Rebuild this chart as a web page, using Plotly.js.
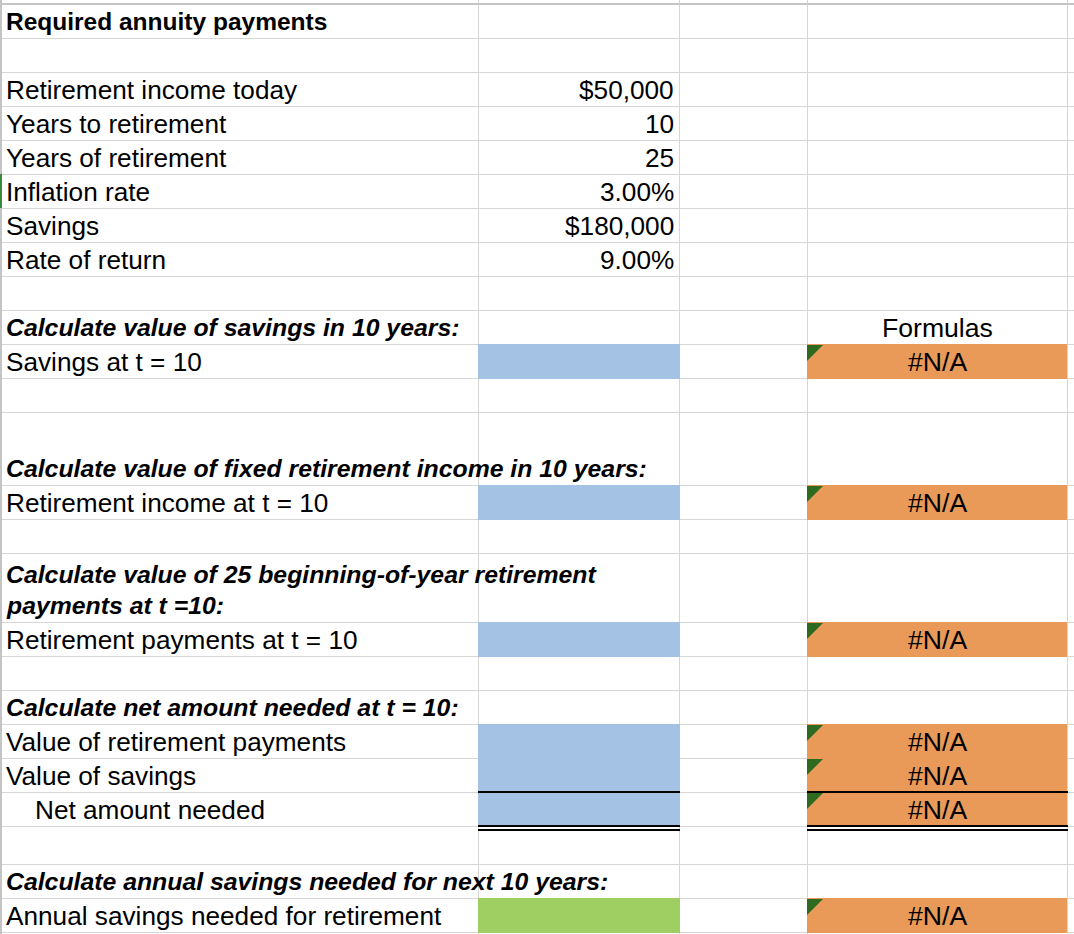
<!DOCTYPE html>
<html><head><meta charset="utf-8">
<script src="https://cdn.plot.ly/plotly-3.0.1.min.js"></script>
<style>html,body{margin:0;padding:0;background:#fff;overflow:hidden;} #chart{width:1074px;height:934px;}</style>
</head><body><div id="chart"></div>
<script>
// ---------------- DATA ----------------
const sheetLabels = [
  "Required annuity payments", "",
  "Retirement income today", "Years to retirement", "Years of retirement",
  "Inflation rate", "Savings", "Rate of return", "",
  "Calculate value of savings in 10 years:", "Savings at t = 10", "",
  "Calculate value of fixed retirement income in 10 years:", "Retirement income at t = 10", "",
  "Calculate value of 25 beginning-of-year retirement<br>payments at t =10:", "Retirement payments at t = 10", "",
  "Calculate net amount needed at t = 10:", "Value of retirement payments", "Value of savings", "Net amount needed", "",
  "Calculate annual savings needed for next 10 years:", "Annual savings needed for retirement"
];
const labelKinds = [
  "title", "",
  "text", "text", "text", "text", "text", "text", "",
  "heading", "text", "",
  "heading", "text", "",
  "heading", "text", "",
  "heading", "text", "text", "subtotal", "",
  "heading", "text"
];
const inputValues = [null, null, 50000, 10, 25, 0.03, 180000, 0.09, null,
  null, null, null, null, null, null, null, null, null, null, null, null, null, null, null, null];
const inputFormats = ["", "", "dollar", "number", "number", "percent", "dollar", "percent", "",
  "", "", "", "", "", "", "", "", "", "", "", "", "", "", "", ""];
const formulaColumn = ["", "", "", "", "", "", "", "", "",
  "Formulas", "#N/A", "",
  "", "#N/A", "",
  "", "#N/A", "",
  "", "#N/A", "#N/A", "#N/A", "",
  "", "#N/A"];
const answerCells = ["", "", "", "", "", "", "", "", "",
  "", "answer", "",
  "", "answer", "",
  "", "answer", "",
  "", "answer", "answer", "answer", "",
  "", "final"];
const totalRowIndex = 21;

// ---------------- LAYOUT ----------------
const W = 1074, H = 934;
const colEdges = [0, 478, 679, 807, 1067];
const rowEdges = [4, 38, 72, 106, 140, 174, 208, 242, 276, 310, 344, 378, 412, 485, 519,
  553, 622, 656, 690, 724, 758, 792, 826, 864, 898, 932];
const FONT = "'Liberation Sans', Arial, Helvetica, sans-serif";
const GRID = "#d6d6d6";
const fillColors = {answer: "#a4c2e4", final: "#9fce62", formula: "#e99a59"};
const markerColor = "#2e6b20";

function fmt(v, f) {
  if (v === null || v === undefined) return "";
  if (f === "dollar") return "$" + v.toLocaleString("en-US");
  if (f === "percent") return (v * 100).toFixed(2) + "%";
  return String(v);
}

const shapes = [];
const annotations = [];

// gridlines
colEdges.forEach(x => shapes.push({type: "line", xref: "x", yref: "y", x0: x + 0.5, x1: x + 0.5, y0: 0, y1: H,
  line: {color: GRID, width: 1}, layer: "below"}));
rowEdges.slice(1).forEach(y => shapes.push({type: "line", xref: "x", yref: "y", x0: 0, x1: W, y0: y + 0.5, y1: y + 0.5,
  line: {color: GRID, width: 1}, layer: "below"}));
// frozen-header line and left edge
shapes.push({type: "line", xref: "x", yref: "y", x0: 0, x1: W, y0: rowEdges[0], y1: rowEdges[0], line: {color: "#c4c4c4", width: 2}});
shapes.push({type: "line", xref: "x", yref: "y", x0: 1, x1: 1, y0: 0, y1: H, line: {color: "#c4c4c4", width: 2}});
shapes.push({type: "line", xref: "x", yref: "y", x0: 1, x1: 1, y0: rowEdges[5], y1: rowEdges[6], line: {color: "#3a8a3a", width: 2}});

sheetLabels.forEach((lab, i) => {
  const top = rowEdges[i], bot = rowEdges[i + 1];
  // fills
  if (answerCells[i]) {
    shapes.push({type: "rect", xref: "x", yref: "y", x0: colEdges[1], x1: colEdges[2] + 1, y0: top, y1: bot + 1,
      fillcolor: fillColors[answerCells[i]], line: {width: 0}});
  }
  if (formulaColumn[i] === "#N/A") {
    shapes.push({type: "rect", xref: "x", yref: "y", x0: colEdges[3], x1: colEdges[4], y0: top, y1: bot + 1,
      fillcolor: fillColors.formula, line: {width: 0}});
    shapes.push({type: "path", xref: "x", yref: "y",
      path: `M${colEdges[3]},${top + 1} L${colEdges[3] + 16},${top + 1} L${colEdges[3]},${top + 17} Z`,
      fillcolor: markerColor, line: {width: 0}});
  }
  // labels
  if (lab) {
    const kind = labelKinds[i];
    const lines = lab.split("<br>");
    lines.forEach((ln, k) => {
      let t = ln;
      const f = {family: FONT, color: "#000", size: 26.2};
      if (kind === "title") { t = "<b>" + ln + "</b>"; f.size = 24.5; }
      if (kind === "heading") { t = "<b><i>" + ln + "</i></b>"; f.size = 24.8; }
      annotations.push({xref: "x", yref: "y", x: colEdges[0] + (kind === "subtotal" ? 33 : 4),
        y: bot - 16.5 - (lines.length - 1 - k) * 31, text: t, showarrow: false,
        xanchor: "left", yanchor: "middle", font: f});
    });
  }
  const v = fmt(inputValues[i], inputFormats[i]);
  if (v) annotations.push({xref: "x", yref: "y", x: colEdges[2] - 3, y: bot - 16.5, text: v, showarrow: false,
    xanchor: "right", yanchor: "middle", font: {family: FONT, color: "#000", size: 26.2}});
  if (formulaColumn[i]) annotations.push({xref: "x", yref: "y", x: (colEdges[3] + colEdges[4]) / 2, y: bot - 16.5,
    text: formulaColumn[i], showarrow: false, xanchor: "center", yanchor: "middle",
    font: {family: FONT, color: "#000", size: 26.6}});
});

// borders around total row
[[colEdges[1], colEdges[2] + 1], [colEdges[3], colEdges[4] + 1]].forEach(([a, b]) => {
  const top = rowEdges[totalRowIndex], bot = rowEdges[totalRowIndex + 1];
  shapes.push({type: "line", xref: "x", yref: "y", x0: a, x1: b, y0: top, y1: top, line: {color: "#000", width: 1.8}});
  shapes.push({type: "line", xref: "x", yref: "y", x0: a, x1: b, y0: bot, y1: bot, line: {color: "#000", width: 1.8}});
  shapes.push({type: "line", xref: "x", yref: "y", x0: a, x1: b, y0: bot + 4, y1: bot + 4, line: {color: "#000", width: 1.8}});
});

const layout = {
  width: W, height: H, margin: {l: 0, r: 0, t: 0, b: 0},
  paper_bgcolor: "#fff", plot_bgcolor: "#fff", showlegend: false,
  xaxis: {range: [0, W], visible: false, fixedrange: true},
  yaxis: {range: [H, 0], visible: false, fixedrange: true},
  shapes: shapes, annotations: annotations, hovermode: false
};
Plotly.newPlot("chart", [{type: "scatter", x: [], y: [], mode: "markers", hoverinfo: "skip"}], layout,
  {staticPlot: true, displayModeBar: false});
</script>
</body></html>
